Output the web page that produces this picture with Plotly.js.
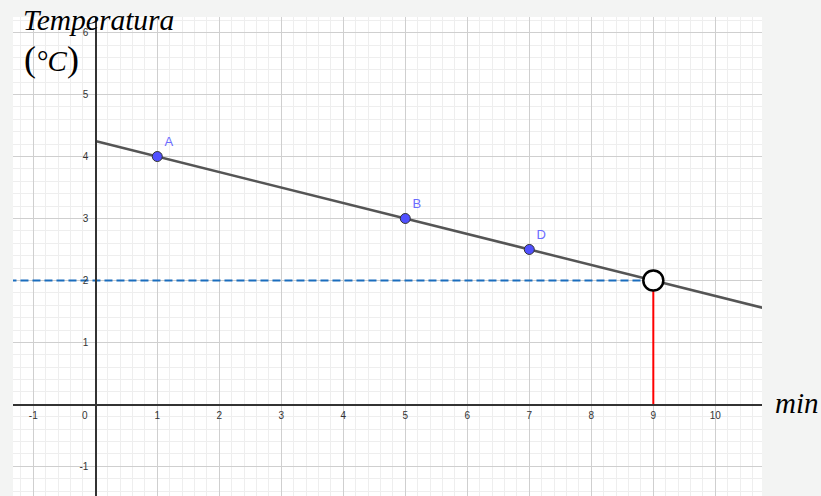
<!DOCTYPE html>
<html><head><meta charset="utf-8">
<script src="https://cdn.plot.ly/plotly-3.0.1.min.js"></script>
<style>html,body{margin:0;padding:0;background:#f3f4f3}</style>
</head><body>
<div id="chart" style="width:821px;height:496px"></div>
<script>
// Data
const lineX = [0, 10.76];
const lineY = [4.25, 1.56];
const pointNames = ['A', 'B', 'D'];
const pointX = [1, 5, 7];
const pointY = [4, 3, 2.5];
const targetX = [9];
const targetY = [2];
const dashX = [-1.4, 9];
const dashY = [2, 2];
const redX = [9, 9];
const redY = [0, 2];
const xTickVals = [-1, 0, 1, 2, 3, 4, 5, 6, 7, 8, 9, 10];
const xTickText = ['-1', '', '1', '2', '3', '4', '5', '6', '7', '8', '9', '10'];
const yTickVals = [-1, 0, 1, 2, 3, 4, 5, 6];
const yTickText = ['-1', '', '1', '2', '3', '4', '5', '6'];

const traces = [
  {x: dashX, y: dashY, mode: 'lines', line: {color: '#1a6dbd', width: 2, dash: '8px,4px'}, hoverinfo: 'skip'},
  {x: redX, y: redY, mode: 'lines', line: {color: '#ff0000', width: 2}, hoverinfo: 'skip'},
  {x: lineX, y: lineY, mode: 'lines', line: {color: '#555555', width: 2.5}, hoverinfo: 'skip'},
  {x: pointX, y: pointY, mode: 'markers+text', text: pointNames, textposition: 'top right',
   textfont: {family: 'Liberation Sans, Arial, sans-serif', size: 13, color: '#6b6bff'},
   marker: {size: 10, color: '#5050ff', line: {color: '#333333', width: 1}}},
  {x: targetX, y: targetY, mode: 'markers', marker: {size: 20, color: '#ffffff', line: {color: '#000000', width: 2.5}}}
];

const gridMinor = {tickmode: 'linear', tick0: 0, dtick: 0.2, showgrid: true, gridcolor: '#eeeeee', gridwidth: 1, ticks: ''};

const layout = {
  width: 821, height: 496,
  margin: {l: 13, r: 59, t: 17, b: 0, pad: 0},
  paper_bgcolor: '#f3f4f3',
  plot_bgcolor: '#ffffff',
  showlegend: false,
  xaxis: {
    range: [-1.327, 10.753], tickmode: 'array', tickvals: xTickVals, ticktext: xTickText,
    showgrid: true, gridcolor: '#cfcfcf', gridwidth: 1, zeroline: false,
    showline: true, linecolor: '#333333', linewidth: 1.5,
    anchor: 'free', position: 0.1913, ticks: '', ticklabelstandoff: 1,
    tickfont: {family: 'Liberation Sans, Arial, sans-serif', size: 10, color: '#333333'},
    minor: gridMinor, fixedrange: true
  },
  yaxis: {
    range: [-1.479, 6.252], tickmode: 'array', tickvals: yTickVals, ticktext: yTickText,
    showgrid: true, gridcolor: '#cfcfcf', gridwidth: 1, zeroline: false,
    showline: true, linecolor: '#333333', linewidth: 1.5,
    anchor: 'free', position: 0.1099, ticks: '', ticklabelstandoff: 5,
    tickfont: {family: 'Liberation Sans, Arial, sans-serif', size: 10, color: '#333333'},
    minor: gridMinor, fixedrange: true
  },
  annotations: [
    {x: 0, y: 0, xref: 'x', yref: 'y', text: '0', showarrow: false, xshift: -10, yshift: -11,
     font: {family: 'Liberation Sans, Arial, sans-serif', size: 10, color: '#333333'}},
    {x: 0.0107, y: 0.994, xref: 'paper', yref: 'paper', xanchor: 'left', yanchor: 'middle',
     text: '<i>Temperatura</i>', showarrow: false,
     font: {family: 'Liberation Serif, Times New Roman, serif', size: 29.5, color: '#000000'}},
    {x: 0.052, y: 0.912, xref: 'paper', yref: 'paper', xanchor: 'center', yanchor: 'middle',
     text: '<span style="font-size:36px">(</span><i>°C</i><span style="font-size:36px">)</span>', showarrow: false,
     font: {family: 'Liberation Serif, Times New Roman, serif', size: 29, color: '#000000'}},
    {x: 1.0467, y: 0.194, xref: 'paper', yref: 'paper', xanchor: 'center', yanchor: 'middle',
     text: '<i>min</i>', showarrow: false,
     font: {family: 'Liberation Serif, Times New Roman, serif', size: 29, color: '#000000'}}
  ]
};

Plotly.newPlot('chart', traces, layout, {displayModeBar: false, staticPlot: true});
</script>
</body></html>
